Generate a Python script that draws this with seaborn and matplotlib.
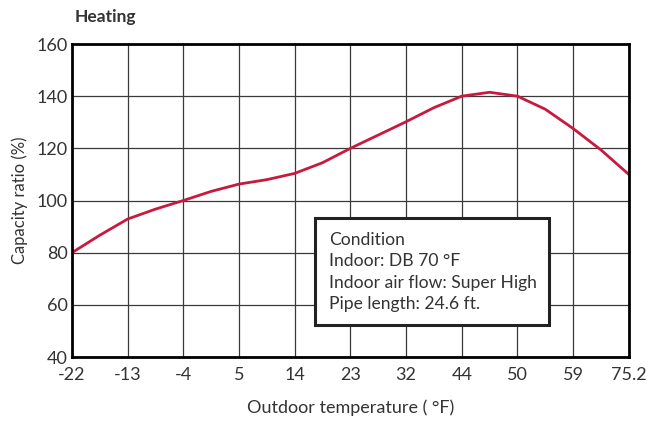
import numpy as np
import pandas as pd
import matplotlib
matplotlib.use("Agg")
import matplotlib.pyplot as plt
import seaborn as sns
from matplotlib.patches import Rectangle

# tick labels along the outdoor temperature axis (equally spaced)
temp_labels = ["-22", "-13", "-4", "5", "14", "23", "32", "44", "50", "59", "75.2"]

# capacity ratio at every tick and half way between ticks
curve_pos = [0, 0.5, 1, 1.5, 2, 2.5, 3, 3.5, 4, 4.5, 5,
             5.5, 6, 6.5, 7, 7.5, 8, 8.5, 9, 9.5, 10]
curve_val = [80, 86.7, 92.9, 96.7, 100, 103.5, 106.3, 108, 110.4, 114.5, 120,
             125.1, 130.2, 135.6, 140, 141.5, 140, 135, 127.6, 119.4, 110]

y_ticks = [40, 60, 80, 100, 120, 140, 160]

cond_lines = ["Condition", "Indoor: DB 70 °F",
              "Indoor air flow: Super High", "Pipe length: 24.6 ft."]

txt = "#333333"

sns.set_style("white")
plt.rcParams["font.family"] = ["Lato", "DejaVu Sans"]

fig = plt.figure(figsize=(6.64, 4.22), dpi=100)
ax = fig.add_axes([0.1084, 0.154, 0.8386, 0.7417])

df = pd.DataFrame({"pos": curve_pos, "ratio": curve_val})
sns.lineplot(data=df, x="pos", y="ratio", color="#C8193F", linewidth=2, ax=ax)

ax.set_xlim(0, len(temp_labels) - 1)
ax.set_ylim(40, 160)
ax.set_xticks(range(len(temp_labels)))
ax.set_xticklabels(temp_labels)
ax.set_yticks(y_ticks)
ax.tick_params(length=0, labelsize=13, labelcolor=txt)
ax.tick_params(axis="x", pad=7)
ax.tick_params(axis="y", pad=3)
ax.grid(True, color="#3a3a3a", linewidth=0.9)
ax.set_axisbelow(True)
for s in ax.spines.values():
    s.set_color("black")
    s.set_linewidth(2)

ax.set_xlabel("Outdoor temperature ( °F)", fontsize=13, color=txt, labelpad=12)
ax.set_ylabel("Capacity ratio (%)", fontsize=12, color=txt, labelpad=6)
fig.text(0.113, 0.96, "Heating", fontsize=12.5, fontweight="bold", color=txt,
         va="center", ha="left")

# condition box
ax.add_patch(Rectangle((0.436, 0.102), 0.42, 0.342, transform=ax.transAxes,
                       facecolor="white", edgecolor="#222222", linewidth=2.2,
                       zorder=5))
for i, line in enumerate(cond_lines):
    ax.text(0.461, 0.374 - i * 0.0687, line, transform=ax.transAxes,
            fontsize=12.6, color=txt, va="center", ha="left", zorder=6)

fig.savefig("out.png", dpi=100)
